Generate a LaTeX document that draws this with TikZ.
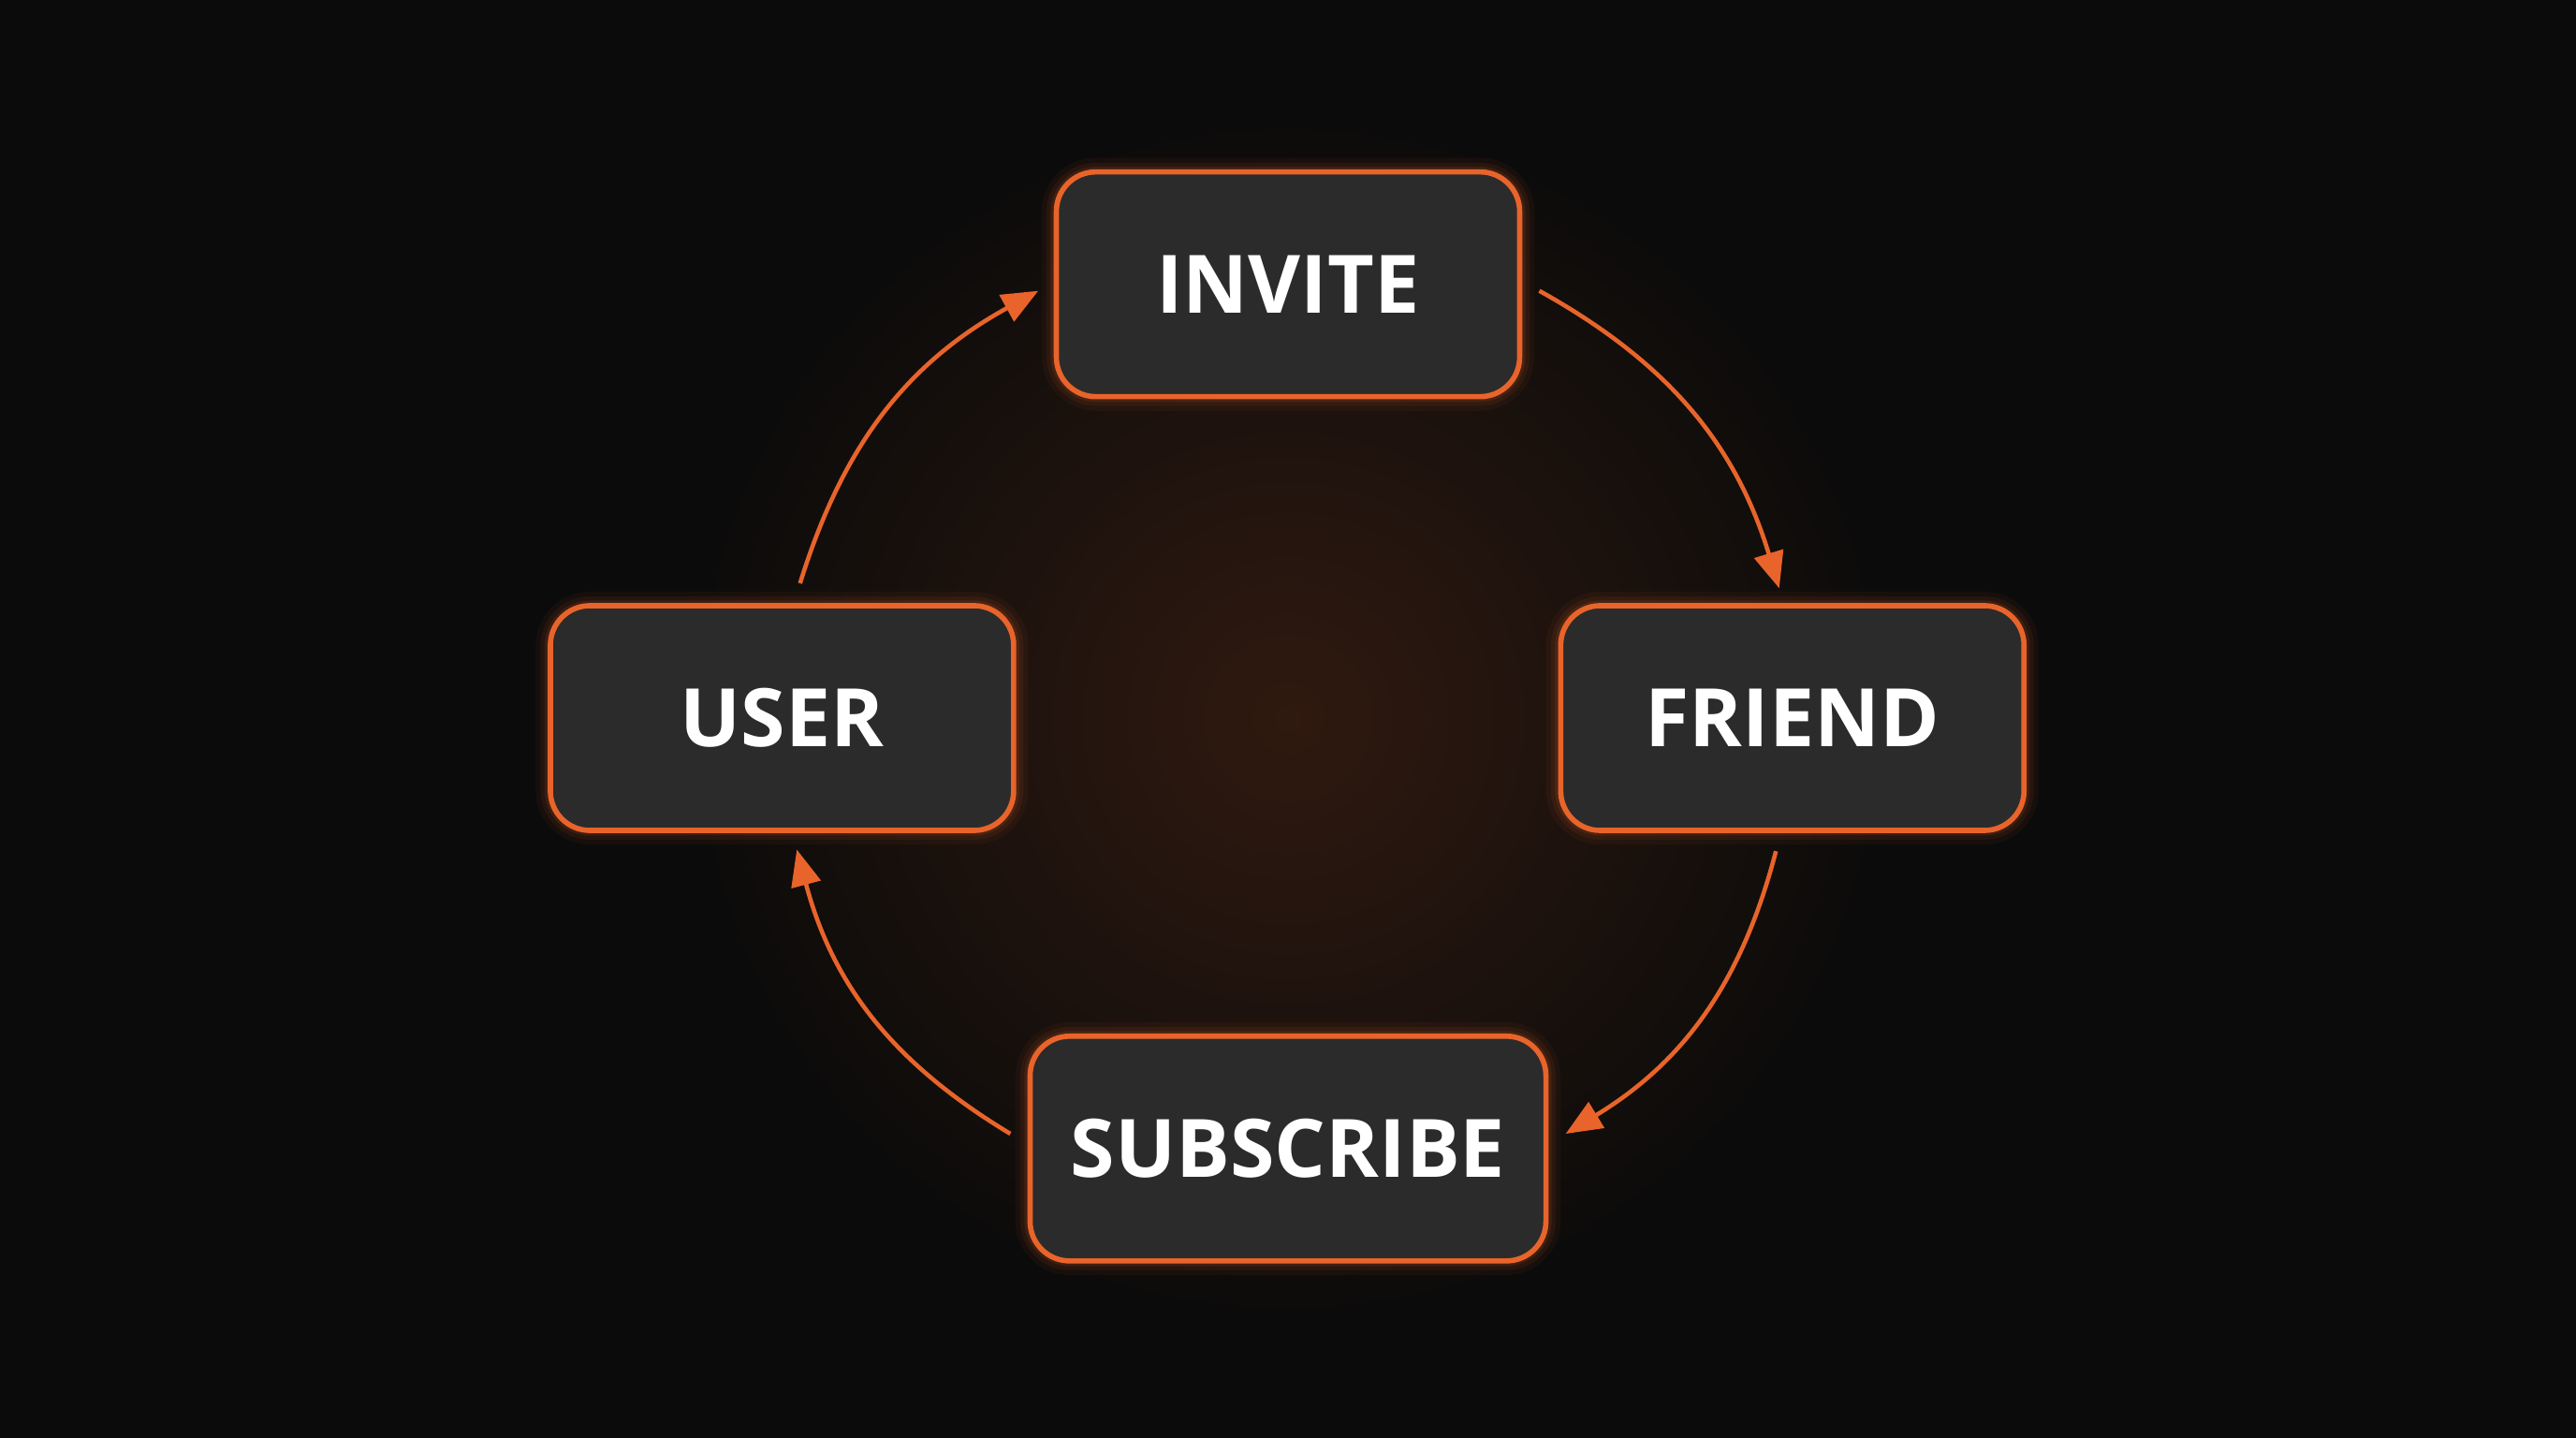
\documentclass[tikz,border=0pt]{standalone}
\usepackage{fontspec}
\setmainfont{Open Sans}
\usetikzlibrary{arrows.meta,calc}
\definecolor{bgdark}{HTML}{0B0B0B}
\definecolor{boxfill}{HTML}{2B2B2B}
\definecolor{glow}{HTML}{E8642A}
\newcommand{\cyclebox}[4] {
  \foreach \w/\o in {9pt/0.05,6pt/0.08,3.5pt/0.12}
    \draw [glow, line width=\w, opacity=\o, rounded corners=12pt] ($(#1)+(-#3/2,-68)$) rectangle ($(#1)+(#3/2,68)$);
  \node at (#1) (#2) [box, minimum width=#3*0.01755cm] {#4};}
\tikzset{
  box/.style={rectangle, draw=glow, fill=boxfill, line width=1.6pt, rounded corners=12pt,
    minimum height=2.4cm, text=white, font=\fontsize{24.5}{28}\selectfont\bfseries},
  flow/.style={glow, line width=1.3pt, -{Triangle[length=11pt,width=9pt]}}
}
\begin{document}
\begin{tikzpicture}[x=0.01755cm, y=-0.01755cm]
\fill [bgdark] (0,0) rectangle (1568,875);
\useasboundingbox (0,0) rectangle (1568,875);
\shade [inner color=glow!28!bgdark, outer color=bgdark, opacity=0.6] (784,437) circle (380);

\cyclebox {784,173}{invite}{282}{INVITE}
\cyclebox {476,437}{user}{282}{USER}
\cyclebox {1091,437}{friend}{282}{FRIEND}
\cyclebox {784,699}{subscribe}{314}{SUBSCRIBE}

\coordinate (a1) at (487,355);  \coordinate (a2) at (632,177);
\coordinate (b1) at (937,177);  \coordinate (b2) at (1083,358);
\coordinate (c1) at (1081,518); \coordinate (c2) at (953,690);
\coordinate (d1) at (615,690);  \coordinate (d2) at (485,517);

\draw [flow] (a1) to [bend left=22] (a2);
\draw [flow] (b1) to [bend left=22] (b2);
\draw [flow] (c1) to [bend left=22] (c2);
\draw [flow] (d1) to [bend left=22] (d2);

\end{tikzpicture}
\end{document}
